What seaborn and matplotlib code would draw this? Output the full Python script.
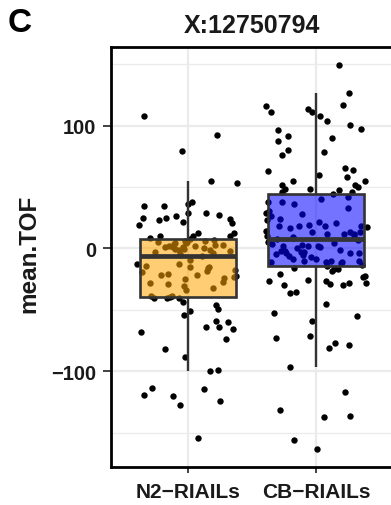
import numpy as np
import pandas as pd
import matplotlib
matplotlib.use("Agg")
import matplotlib.pyplot as plt
from matplotlib.ticker import MultipleLocator
from matplotlib.colors import to_rgba
import seaborn as sns

# ---- data ----
categories = ["N2\u2212RIAILs", "CB\u2212RIAILs"]
box_colors = ["#FFA500", "#0000FF"]

n2_values = [
    107.6, 92.6, 79.5, 54.6, 53.2, 37.5, 36.0, 34.7, 34.2, 28.8, 28.5, 27.4, 26.1,
    24.9, 24.9, 24.1, 23.3, 21.4, 20.6, 19.2, 12.5, 12.5, 10.0, 9.8, 9.8, 8.7, 7.6,
    6.8, 6.2, 5.8, 5.4, 4.9, 4.5, 4.0, 3.5, 3.0, 2.5, 2.0, 1.6, 1.3, 1.0, 0.8, 0.2,
    -0.3, -0.6, -1.1, -1.4, -2.2, -2.8, -3.5, -4.6, -5.5, -6.3,
    -9.5, -12.5, -13.0, -14.2, -15.0, -15.5, -16.1, -17.5, -18.5, -19.0, -21.0,
    -21.5, -22.0, -22.3, -23.0, -24.5, -25.0, -27.7, -28.0, -29.0, -30.5, -32.6,
    -34.0, -38.6, -39.0, -39.5,
    -40.0, -40.2, -40.5, -43.5, -46.0, -49.0, -51.0, -54.5, -59.5, -60.0, -63.6,
    -64.4, -65.8, -67.7, -73.4, -81.8, -88.8, -99.2, -100.0, -113.6, -114.1,
    -119.0, -120.4, -124.5, -127.2, -154.4,
]

cb_values = [
    149.6, 126.6, 117.0, 116.2, 113.5, 110.8, 110.8, 107.8, 104.0, 100.2, 97.5,
    96.7, 91.8, 89.9, 87.2, 80.4, 78.2, 76.3, 65.2, 63.8, 62.7, 59.5, 58.4, 55.0,
    55.0, 51.6, 51.6, 50.2, 48.3, 48.3, 47.8, 45.9, 45.9, 44.0,
    42.0, 40.0, 37.5, 37.5, 36.0, 33.0, 30.5, 28.5, 28.0, 26.0, 23.9, 23.0, 21.5,
    20.6, 19.0, 18.4, 18.0, 18.0, 18.0, 17.1, 16.3, 14.0, 13.5, 13.0, 13.0, 11.6,
    11.6, 11.6, 10.8, 10.3, 9.5, 8.5, 7.6,
    6.5, 5.0, 4.5, 3.5, 3.0, 2.1, 2.1, 1.6, 0.8, 0.0, -1.0, -1.9, -2.5, -3.0,
    -3.0, -3.5, -3.6, -3.8, -4.5, -5.0, -6.0, -7.0, -8.7, -9.0, -10.0, -10.0,
    -10.0, -11.0, -11.0, -11.0, -12.0, -13.5, -14.5,
    -15.8, -17.0, -17.0, -18.0, -21.2, -22.6, -23.1, -26.1, -26.7, -26.7, -28.0,
    -28.0, -28.8, -29.9, -29.9, -35.4, -36.2, -45.6, -53.0, -55.2, -59.2, -71.2,
    -73.3, -76.9, -78.6, -81.5, -96.5, -116.9, -131.5, -136.7, -137.2, -156.0,
    -163.3,
]

title_text = "X:12750794"
panel_tag = "C"
y_label = "mean.TOF"
y_ticks = [-100, 0, 100]

df = pd.DataFrame({
    "group": [categories[0]] * len(n2_values) + [categories[1]] * len(cb_values),
    "mean.TOF": n2_values + cb_values,
})

# ---- figure ----
sns.set_theme(style="white")
plt.rcParams["font.family"] = ["Liberation Sans", "DejaVu Sans"]
plt.rcParams["font.weight"] = "bold"

W, H = 391, 506
fig = plt.figure(figsize=(W / 100, H / 100), dpi=100)
ax = fig.add_axes([111 / W, 1 - 468 / H, 282 / W, 420 / H])

np.random.seed(7)
sns.stripplot(data=df, x="group", y="mean.TOF", order=categories,
              color="black", size=4.6, jitter=0.4, linewidth=0, ax=ax, zorder=2)

sns.boxplot(data=df, x="group", y="mean.TOF", order=categories,
            hue="group", hue_order=categories, palette=box_colors, legend=False,
            width=0.75, showfliers=False, showcaps=False,
            linecolor="#333333", linewidth=1.9,
            medianprops={"linewidth": 3.4, "color": "#333333"},
            whiskerprops={"linewidth": 1.7, "color": "#333333"},
            ax=ax)

# semi-transparent fills drawn over the points
for patch, c in zip(ax.patches, box_colors):
    patch.set_facecolor(to_rgba(c, 0.55))
    patch.set_edgecolor("#333333")
    patch.set_zorder(3)
for line in ax.lines:
    line.set_zorder(4)

ax.set_xlim(-0.6, 1.6)
ax.set_ylim(-178, 164)
ax.set_yticks(y_ticks)
ax.yaxis.set_minor_locator(MultipleLocator(50))
ax.set_xlabel("")
ax.set_ylabel("")

ax.set_axisbelow(True)
ax.grid(True, which="major", color="#EBEBEB", linewidth=1.6)
ax.grid(True, which="minor", axis="y", color="#EBEBEB", linewidth=0.9)

for side in ["left", "bottom", "top", "right"]:
    ax.spines[side].set_visible(True)
    ax.spines[side].set_color("black")
    ax.spines[side].set_linewidth(2.0)

ax.tick_params(axis="both", which="major", width=1.3, color="#333333",
               direction="out", left=True, bottom=True)
ax.tick_params(axis="y", which="major", length=5.5, labelsize=14.5, pad=5,
               labelcolor="#1A1A1A")
ax.tick_params(axis="x", which="major", length=4.5, labelsize=15, pad=6,
               labelcolor="#1A1A1A")
ax.tick_params(which="minor", length=0)
for lab in ax.get_xticklabels() + ax.get_yticklabels():
    lab.set_fontweight("bold")

fig.text(252 / W, 1 - 26 / H, title_text, ha="center", va="center",
         fontsize=18, fontweight="bold", color="#1A1A1A")
fig.text(29 / W, 1 - 254 / H, y_label, ha="center", va="center", rotation=90,
         fontsize=17.5, fontweight="bold", color="#1A1A1A")
fig.text(8 / W, 1 - 23 / H, panel_tag, ha="left", va="center",
         fontsize=24, fontweight="bold", color="black")

fig.savefig("out.png", dpi=100)
